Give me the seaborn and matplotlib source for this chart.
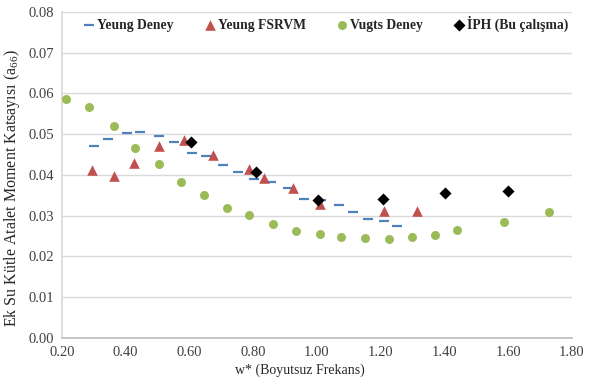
import matplotlib
matplotlib.use("Agg")
import matplotlib.pyplot as plt
import seaborn as sns
import pandas as pd

# ---- data ----
yeung_deney_x = [0.301, 0.345, 0.403, 0.445, 0.504, 0.552, 0.607, 0.651, 0.704, 0.752,
                 0.802, 0.857, 0.908, 0.960, 1.012, 1.068, 1.112, 1.160, 1.212, 1.252]
yeung_deney_y = [0.0471, 0.0488, 0.0504, 0.0505, 0.0496, 0.0481, 0.0453, 0.0446, 0.0425, 0.0407,
                 0.0389, 0.0383, 0.0367, 0.0342, 0.0339, 0.0327, 0.0309, 0.0291, 0.0288, 0.0274]

fsrvm_x = [0.293, 0.362, 0.426, 0.505, 0.584, 0.675, 0.786, 0.835, 0.924, 1.009, 1.212, 1.313]
fsrvm_y = [0.0412, 0.0398, 0.0430, 0.0471, 0.0487, 0.0448, 0.0414, 0.0392, 0.0369, 0.0330, 0.0312, 0.0312]

vugts_x = [0.212, 0.285, 0.363, 0.429, 0.504, 0.573, 0.645, 0.718, 0.787, 0.862,
           0.934, 1.009, 1.077, 1.151, 1.225, 1.299, 1.371, 1.440, 1.587, 1.729]
vugts_y = [0.0586, 0.0566, 0.0520, 0.0466, 0.0427, 0.0384, 0.0351, 0.0319, 0.0301, 0.0280,
           0.0262, 0.0254, 0.0249, 0.0246, 0.0243, 0.0247, 0.0252, 0.0265, 0.0285, 0.0309]

iph_x = [0.604, 0.809, 1.004, 1.208, 1.402, 1.601]
iph_y = [0.0480, 0.0407, 0.0339, 0.0340, 0.0356, 0.0361]

x_ticks = [0.20, 0.40, 0.60, 0.80, 1.00, 1.20, 1.40, 1.60, 1.80]
y_ticks = [0.00, 0.01, 0.02, 0.03, 0.04, 0.05, 0.06, 0.07, 0.08]

sns.set_theme(style="white")
plt.rcParams["font.family"] = ["Liberation Serif", "DejaVu Serif"]
plt.rcParams["mathtext.fontset"] = "custom"
plt.rcParams["mathtext.rm"] = "Liberation Serif"
plt.rcParams["mathtext.it"] = "Liberation Serif"

fig = plt.figure(figsize=(5.92, 3.83), dpi=100)
ax = fig.add_axes([0.1047, 0.1175, 0.8613, 0.8512])

df_yd = pd.DataFrame({"x": yeung_deney_x, "y": yeung_deney_y})
df_fs = pd.DataFrame({"x": fsrvm_x, "y": fsrvm_y})
df_vu = pd.DataFrame({"x": vugts_x, "y": vugts_y})
df_ip = pd.DataFrame({"x": iph_x, "y": iph_y})

sns.scatterplot(data=df_yd, x="x", y="y", ax=ax, marker="_", s=55, linewidth=1.6,
                color="#4F81BD", label="Yeung Deney", zorder=3)
sns.scatterplot(data=df_fs, x="x", y="y", ax=ax, marker="^", s=58, linewidth=0,
                color="#C0504D", label="Yeung FSRVM", zorder=3)
sns.scatterplot(data=df_vu, x="x", y="y", ax=ax, marker="o", s=42, linewidth=0,
                color="#9BBB59", label="Vugts Deney", zorder=3)
sns.scatterplot(data=df_ip, x="x", y="y", ax=ax, marker="D", s=38, linewidth=0,
                color="black", label="İPH (Bu çalışma)", zorder=4)

ax.set_xlim(0.2, 1.8)
ax.set_ylim(0.0, 0.08)
ax.set_xticks(x_ticks)
ax.set_xticklabels([f"{v:.2f}" for v in x_ticks])
ax.set_yticks(y_ticks)
ax.set_yticklabels([f"{v:.2f}" for v in y_ticks])
ax.tick_params(axis="both", labelsize=10.5, colors="#404040", length=0, pad=6)
ax.yaxis.grid(True, color="#D9D9D9", linewidth=1)
ax.xaxis.grid(False)
for side in ["top", "right"]:
    ax.spines[side].set_visible(False)
ax.spines["left"].set_color("#D9D9D9")
ax.spines["bottom"].set_color("#BFBFBF")

ax.set_xlabel("w* (Boyutsuz Frekans)", fontsize=10, color="#262626")
ax.set_ylabel("Ek Su Kütle Atalet Moment Katsayısı (a$_{66}$)", fontsize=11.5,
              color="#262626")
ax.xaxis.set_label_coords(0.467, -0.078)
ax.yaxis.set_label_coords(-0.079, 0.46)

leg = ax.legend(loc="upper center", bbox_to_anchor=(0.518, 1.005), ncol=4, frameon=False,
                prop={"family": "Liberation Serif", "weight": "bold", "size": 9.8},
                handletextpad=0.15, columnspacing=2.3, handlelength=0.8,
                borderaxespad=0.0)

fig.savefig("out.png", dpi=100)
